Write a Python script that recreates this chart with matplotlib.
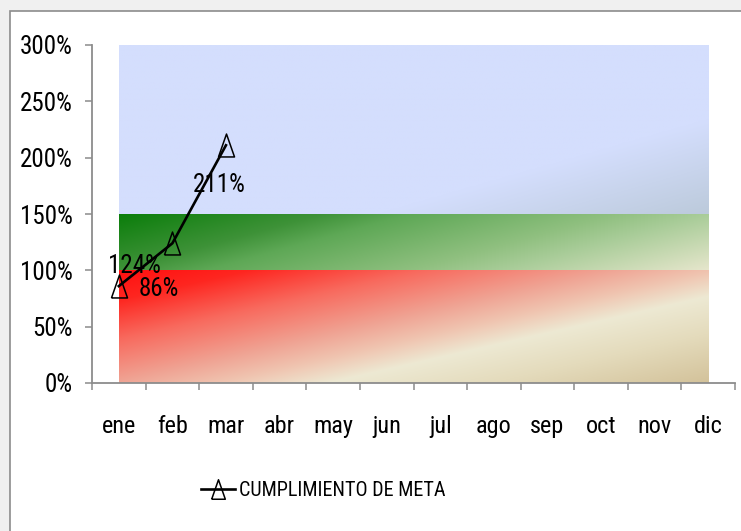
import numpy as np
import matplotlib.pyplot as plt
from matplotlib.colors import to_rgb
from matplotlib.patches import Rectangle

plt.rcParams['font.family'] = ['Liberation Sans Narrow', 'Roboto Condensed', 'DejaVu Sans']
plt.rcParams['font.stretch'] = 'condensed'

meses = ['ene', 'feb', 'mar', 'abr', 'may', 'jun', 'jul', 'ago', 'sep', 'oct', 'nov', 'dic']
cumplimiento = [0.86, 1.24, 2.11]          # ene, feb, mar
etiquetas = ['86%', '124%', '211%']
limites = [0.0, 1.0, 1.5, 3.0]             # franjas: rojo, verde, azul
yticks = [0, 0.5, 1.0, 1.5, 2.0, 2.5, 3.0]

# paradas de color de cada franja (degradado diagonal) y peso vertical
paradas = [
    [(0.0, '#ff1010'), (0.12, '#fe2620'), (0.28, '#f86a5e'), (0.46, '#efa696'),
     (0.55, '#f0c4b0'), (0.65, '#ede9d3'), (0.8, '#e4dbbc'), (1.0, '#d3c29a')],
    [(0.0, '#0a7d0a'), (0.26, '#3e9238'), (0.37, '#5ea856'), (0.63, '#90c080'),
     (0.74, '#a8cc98'), (1.0, '#e6e6cc')],
    [(0.0, '#d4defd'), (0.72, '#d4defd'), (1.0, '#bccadb')],
]
peso_v = [0.84, 0.35, 1.0]


def degradado(stops, wv, n=200, m=500):
    u = np.linspace(0, 1, m)[None, :]
    v = np.linspace(0, 1, n)[:, None]
    t = (u + wv * v) / (1 + wv)
    pos = [p for p, c in stops]
    cols = np.array([to_rgb(c) for p, c in stops])
    return np.stack([np.interp(t, pos, cols[:, k]) for k in range(3)], axis=-1)


W, H = 741, 531
fig = plt.figure(figsize=(W / 100, H / 100), dpi=100, facecolor='#f0f0f0')
fig.patches.append(Rectangle((10 / W, -0.1), 1.2, (H - 11) / H + 0.1, transform=fig.transFigure,
                             facecolor='white', edgecolor='#8c8c8c', linewidth=1.2, zorder=-5))

ax = fig.add_axes([92 / W, (H - 383) / H, 643 / W, 338 / H], zorder=2)
ax.patch.set_alpha(0)

for i in range(3):
    ax.imshow(degradado(paradas[i], peso_v[i]), extent=[0, 11, limites[i], limites[i + 1]],
              origin='upper', aspect='auto', interpolation='bilinear', zorder=1)

x = np.arange(len(cumplimiento))
tri = [(-0.7, -1), (0.7, -1), (0, 1), (-0.7, -1)]
linea, = ax.plot(x, cumplimiento, color='black', lw=1.9, marker=tri, markersize=16.5,
                 markerfacecolor='none', markeredgecolor='black', markeredgewidth=1.1, zorder=3)

offsets = [(40, -3), (-38, -23), (-7, -40)]
for xi, yi, lab, off in zip(x, cumplimiento, etiquetas, offsets):
    ax.annotate(lab, (xi, yi), xytext=off, textcoords='offset pixels',
                ha='center', va='center', fontsize=18, zorder=4)

ax.set_xlim(-0.5, 11.5)
ax.set_ylim(0, 3)
for s in ['top', 'right']:
    ax.spines[s].set_visible(False)
for s in ['left', 'bottom']:
    ax.spines[s].set_color('#8c8c8c')
    ax.spines[s].set_linewidth(1.3)

ax.set_yticks(yticks)
ax.set_yticklabels([f'{int(round(v * 100))}%' for v in yticks])
ax.tick_params(axis='y', length=5, width=1.1, color='#8c8c8c', pad=9, labelsize=18)

ax.set_xticks(range(12))
ax.set_xticklabels(meses)
ax.set_xticks(np.arange(-0.5, 12, 1), minor=True)
ax.tick_params(axis='x', which='major', length=0, pad=23, labelsize=17.5)
ax.tick_params(axis='x', which='minor', length=5, width=1.1, color='#8c8c8c')

fig.legend([linea], ['CUMPLIMIENTO DE META'], loc='center', bbox_to_anchor=(323 / W, 1 - 491 / H),
           frameon=False, fontsize=14.5, handlelength=1.7, handletextpad=0.2, markerscale=0.85)

fig.savefig('out.png', dpi=100, facecolor=fig.get_facecolor())
